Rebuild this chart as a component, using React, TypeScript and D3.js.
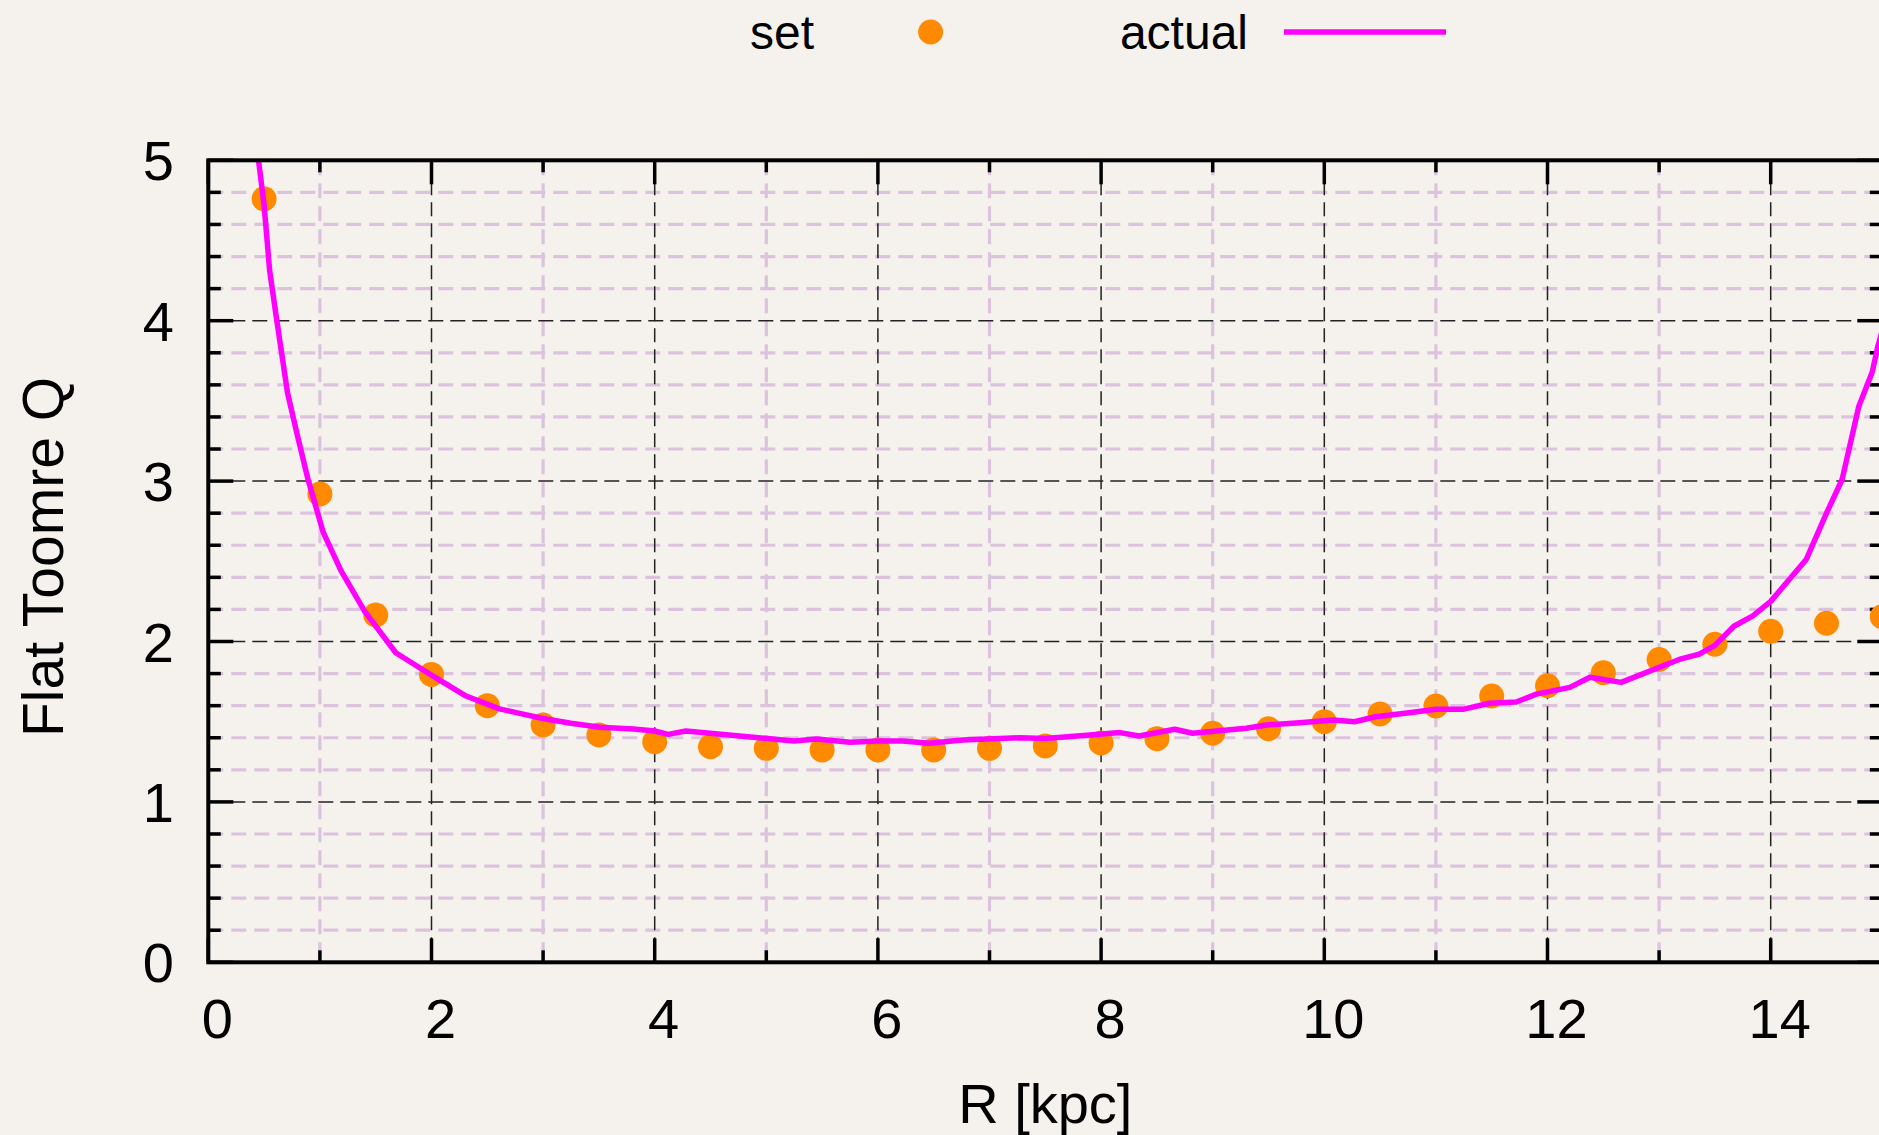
import React from "react";
import { scaleLinear, line, range } from "d3";

// "set" points: radius R [kpc] and the target Toomre Q
const setR = [0.5, 1, 1.5, 2, 2.5, 3, 3.5, 4, 4.5, 5, 5.5, 6, 6.5, 7, 7.5, 8, 8.5, 9, 9.5, 10, 10.5, 11, 11.5, 12, 12.5, 13, 13.5, 14, 14.5, 15];
const setQ = [4.76, 2.92, 2.165, 1.795, 1.6, 1.48, 1.417, 1.375, 1.344, 1.334, 1.324, 1.324, 1.324, 1.334, 1.349, 1.367, 1.394, 1.428, 1.456, 1.5, 1.548, 1.598, 1.66, 1.724, 1.805, 1.888, 1.983, 2.064, 2.114, 2.155];

// "actual" curve
const actualR = [0.45, 0.5, 0.55, 0.61, 0.71, 0.8, 0.89, 1.03, 1.19, 1.4, 1.68, 1.84, 2.0, 2.31, 2.61, 2.8, 3.0, 3.25, 3.51, 3.81, 4.0, 4.12, 4.28, 4.76, 5.25, 5.45, 5.75, 6.0, 6.22, 6.46, 6.76, 7.27, 7.5, 7.9, 8.17, 8.34, 8.66, 8.82, 9.3, 9.48, 9.78, 10.08, 10.27, 10.46, 10.76, 11.0, 11.24, 11.48, 11.72, 11.9, 12.2, 12.38, 12.66, 13.18, 13.36, 13.5, 13.67, 13.84, 14.0, 14.32, 14.5, 14.64, 14.79, 14.91, 14.96, 15.0];
const actualQ = [5.0, 4.72, 4.31, 4.02, 3.55, 3.28, 3.02, 2.68, 2.44, 2.19, 1.93, 1.86, 1.79, 1.66, 1.58, 1.55, 1.52, 1.49, 1.465, 1.455, 1.442, 1.421, 1.442, 1.411, 1.38, 1.392, 1.372, 1.38, 1.38, 1.365, 1.386, 1.4, 1.395, 1.417, 1.432, 1.411, 1.453, 1.428, 1.459, 1.479, 1.494, 1.511, 1.5, 1.531, 1.556, 1.577, 1.577, 1.615, 1.623, 1.672, 1.714, 1.777, 1.745, 1.888, 1.921, 1.976, 2.095, 2.16, 2.25, 2.513, 2.8, 3.01, 3.467, 3.68, 3.84, 3.94];

const xMajor = [0, 2, 4, 6, 8, 10, 12, 14];
const xMinor = [1, 3, 5, 7, 9, 11, 13, 15];
const yMajor = [0, 1, 2, 3, 4, 5];

const legendLabels = ["set", "actual"];

const W = 1879;
const H = 1135;
const FONT = "'Liberation Sans', Arial, Helvetica, sans-serif";
const ORANGE = "#ff8a00";
const MAGENTA = "#ff00ff";
const GRID_MINOR = "#dbc3dd";

export default function App() {
  const left = 208.3;
  const right = 1882.3;
  const top = 160.3;
  const bottom = 962.3;

  const x = scaleLinear().domain([0, 15]).range([left, right]);
  const y = scaleLinear().domain([0, 5]).range([bottom, top]);

  const yMinor = range(0, 5.001, 0.2)
    .map((v) => Math.round(v * 10) / 10)
    .filter((v) => !yMajor.includes(v));

  const pts = actualR.map((r, i) => [r, actualQ[i]]);
  const path = line()
    .x((d) => x(d[0]))
    .y((d) => y(d[1]))(pts);

  return (
    <svg
      width={W}
      height={H}
      style={{ position: "absolute", left: 0, top: 0, background: "#f5f2ed" }}
      fontFamily={FONT}
    >
      <defs>
        <clipPath id="plot">
          <rect x={left} y={top} width={right - left} height={bottom - top} />
        </clipPath>
      </defs>

      {/* minor grid */}
      {yMinor.map((v) => (
        <line key={"ym" + v} x1={left} x2={right} y1={y(v)} y2={y(v)}
          stroke={GRID_MINOR} strokeWidth={3.2} strokeDasharray="15,8" />
      ))}
      {xMinor.map((v) => (
        <line key={"xm" + v} x1={x(v)} x2={x(v)} y1={top} y2={bottom}
          stroke={GRID_MINOR} strokeWidth={3.2} strokeDasharray="15,8" />
      ))}

      {/* major grid */}
      {yMajor.slice(1, -1).map((v) => (
        <line key={"yg" + v} x1={left} x2={right} y1={y(v)} y2={y(v)}
          stroke="#222" strokeWidth={1.5} strokeDasharray="15,7" />
      ))}
      {xMajor.slice(1).map((v) => (
        <line key={"xg" + v} x1={x(v)} x2={x(v)} y1={top} y2={bottom}
          stroke="#222" strokeWidth={1.5} strokeDasharray="14,7" />
      ))}

      {/* ticks on all four sides */}
      <g stroke="#000" strokeWidth={3.5}>
        {xMajor.map((v) => (
          <g key={"xt" + v}>
            <line x1={x(v)} x2={x(v)} y1={bottom} y2={bottom - 24} />
            <line x1={x(v)} x2={x(v)} y1={top} y2={top + 24} />
          </g>
        ))}
        {xMinor.map((v) => (
          <g key={"xtm" + v}>
            <line x1={x(v)} x2={x(v)} y1={bottom} y2={bottom - 12} />
            <line x1={x(v)} x2={x(v)} y1={top} y2={top + 12} />
          </g>
        ))}
        {yMajor.map((v) => (
          <g key={"yt" + v}>
            <line x1={left} x2={left + 25} y1={y(v)} y2={y(v)} />
            <line x1={right} x2={right - 25} y1={y(v)} y2={y(v)} />
          </g>
        ))}
        {yMinor.map((v) => (
          <g key={"ytm" + v}>
            <line x1={left} x2={left + 12.5} y1={y(v)} y2={y(v)} />
            <line x1={right} x2={right - 12.5} y1={y(v)} y2={y(v)} />
          </g>
        ))}
      </g>

      {/* data */}
      <g clipPath="url(#plot)">
        {setR.map((r, i) => (
          <circle key={"p" + i} cx={x(r)} cy={y(setQ[i])} r={12.5} fill={ORANGE} />
        ))}
        <path d={path} fill="none" stroke={MAGENTA} strokeWidth={5.5} strokeLinejoin="round" />
      </g>

      {/* frame */}
      <rect x={left} y={top} width={right - left} height={bottom - top}
        fill="none" stroke="#000" strokeWidth={4} />

      {/* tick labels */}
      {xMajor.map((v) => (
        <text key={"xl" + v} x={x(v) + 9} y={bottom + 76} fontSize={56} textAnchor="middle" fill="#000">
          {v}
        </text>
      ))}
      {yMajor.map((v) => (
        <text key={"yl" + v} x={174} y={y(v) + 20} fontSize={56} textAnchor="end" fill="#000">
          {v}
        </text>
      ))}

      {/* axis titles */}
      <text x={(left + right) / 2} y={1123} fontSize={56} textAnchor="middle" fill="#000">
        R [kpc]
      </text>
      <text transform="translate(63,557) rotate(-90)" fontSize={57} textAnchor="middle" fill="#000">
        Flat Toomre Q
      </text>

      {/* legend */}
      <text x={814} y={49} fontSize={48} textAnchor="end" fill="#000">{legendLabels[0]}</text>
      <circle cx={930.6} cy={32} r={12.5} fill={ORANGE} />
      <text x={1248} y={49} fontSize={48} textAnchor="end" fill="#000">{legendLabels[1]}</text>
      <line x1={1284} x2={1446} y1={32} y2={32} stroke={MAGENTA} strokeWidth={5.5} />
    </svg>
  );
}
